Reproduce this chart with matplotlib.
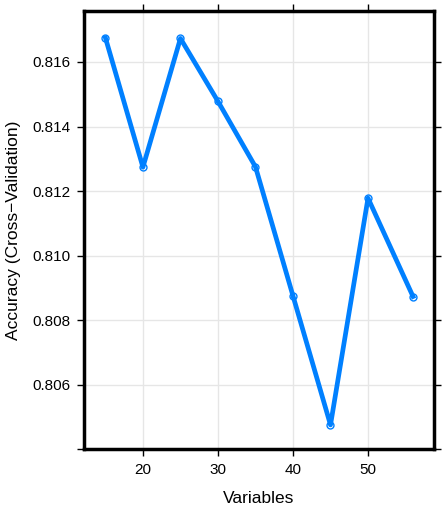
import numpy as np
import matplotlib.pyplot as plt

plt.rcParams['font.family'] = ['Liberation Sans', 'DejaVu Sans']

variables = [15, 20, 25, 30, 35, 40, 45, 50, 56]
accuracy = [0.81675, 0.81274, 0.81673, 0.81478, 0.81275, 0.80875, 0.80475, 0.81178, 0.80873]

yticks = [0.804, 0.806, 0.808, 0.810, 0.812, 0.814, 0.816]
ylabels = ['', '0.806', '0.808', '0.810', '0.812', '0.814', '0.816']
xticks = [20, 30, 40, 50]

fig = plt.figure(figsize=(4.47, 5.09), dpi=100)
ax = fig.add_axes([0.188, 0.117, 0.783, 0.862])

ax.grid(True, color='#e6e6e6', linewidth=1.0)
ax.set_axisbelow(True)
ax.plot(variables, accuracy, '-', color='#0080ff', linewidth=3.4,
        marker='o', markersize=5, markerfacecolor='none',
        markeredgecolor='#0080ff', markeredgewidth=1.0)

ax.set_xlim(12.15, 58.8)
ax.set_ylim(0.80399, 0.81759)
ax.set_xticks(xticks)
ax.set_yticks(yticks)
ax.set_yticklabels(ylabels)

for s in ax.spines.values():
    s.set_linewidth(2.5)
    s.set_color('black')

ax.tick_params(direction='out', length=5, width=1, labelsize=11,
               top=True, right=True, pad=5)
ax.set_xlabel('Variables', fontsize=12.5, labelpad=10)
ax.set_ylabel('Accuracy (Cross\u2212Validation)', fontsize=12.5, labelpad=8)

fig.savefig('out.png', dpi=100)
